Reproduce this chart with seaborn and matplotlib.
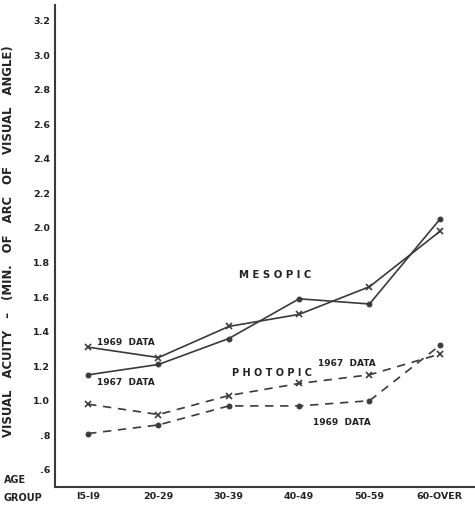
import numpy as np
import pandas as pd
import matplotlib.pyplot as plt
import seaborn as sns

age_groups = ["I5-I9", "20-29", "30-39", "40-49", "50-59", "60-OVER"]
mesopic_x = [1.31, 1.25, 1.43, 1.50, 1.66, 1.98]
mesopic_dot = [1.15, 1.21, 1.36, 1.59, 1.56, 2.05]
photopic_x = [0.98, 0.92, 1.03, 1.10, 1.15, 1.27]
photopic_dot = [0.81, 0.86, 0.97, 0.97, 1.00, 1.32]
yticks = [0.6, 0.8, 1.0, 1.2, 1.4, 1.6, 1.8, 2.0, 2.2, 2.4, 2.6, 2.8, 3.0, 3.2]
ytick_labels = [".6", ".8", "1.0", "1.2", "1.4", "1.6", "1.8", "2.0", "2.2", "2.4", "2.6", "2.8", "3.0", "3.2"]

sns.set_style("white")
plt.rcParams['font.family'] = ['DejaVu Sans']

fig = plt.figure(figsize=(4.75, 5.09), dpi=100)
ax = fig.add_axes([0.116, 0.043, 0.884, 0.947])

pos = np.arange(len(age_groups))
ink = "#3a3a3a"
xm = dict(marker="x", ms=5, mew=1.2, mec=ink, mfc=ink)
dm = dict(marker="o", ms=3.5, mec=ink, mfc=ink)

# Mesopic (solid)
sns.lineplot(x=pos, y=mesopic_x, ax=ax, color=ink, lw=1.2, **xm)
sns.lineplot(x=pos, y=mesopic_dot, ax=ax, color=ink, lw=1.2, **dm)
# Photopic (dashed)
sns.lineplot(x=pos, y=photopic_x, ax=ax, color=ink, lw=1.2, ls=(0, (5, 4)), **xm)
sns.lineplot(x=pos, y=photopic_dot, ax=ax, color=ink, lw=1.2, ls=(0, (5, 4)), **dm)

ax.set_xlim(-0.47, 5.5)
ax.set_ylim(0.5, 3.29)
ax.set_xticks(pos)
ax.set_xticklabels(age_groups)
ax.set_yticks(yticks)
ax.set_yticklabels(ytick_labels)
ax.tick_params(direction="in", length=4, width=1, color=ink, labelsize=6.8, labelcolor="#222222")
for lab in ax.get_xticklabels() + ax.get_yticklabels():
    lab.set_fontweight("bold")
sns.despine(ax=ax)
ax.spines["left"].set_linewidth(1.5)
ax.spines["bottom"].set_linewidth(1.5)
ax.spines["left"].set_color(ink)
ax.spines["bottom"].set_color(ink)

txt = dict(fontsize=6.5, fontweight="bold", color="#222222")
ax.text(2.15, 1.71, "M E S O P I C", fontsize=7.3, fontweight="bold", color="#222222")
ax.text(2.05, 1.145, "P H O T O P I C", fontsize=7.0, fontweight="bold", color="#222222")
ax.text(0.13, 1.32, "1969  DATA", **txt)
ax.text(0.13, 1.09, "1967  DATA", **txt)
ax.text(3.27, 1.20, "1967  DATA", **txt)
ax.text(3.2, 0.86, "1969  DATA", **txt)

ax.set_ylabel("VISUAL   ACUITY   \u2013   (MIN.   OF   ARC   OF   VISUAL   ANGLE)",
              fontsize=8.4, fontweight="bold", color="#222222", labelpad=13)
ax.yaxis.set_label_coords(-0.095, 0.51)
fig.text(0.008, 0.052, "AGE", fontsize=7, fontweight="bold", color="#222222")
fig.text(0.008, 0.016, "GROUP", fontsize=7, fontweight="bold", color="#222222")

fig.savefig("out.png", dpi=100)
